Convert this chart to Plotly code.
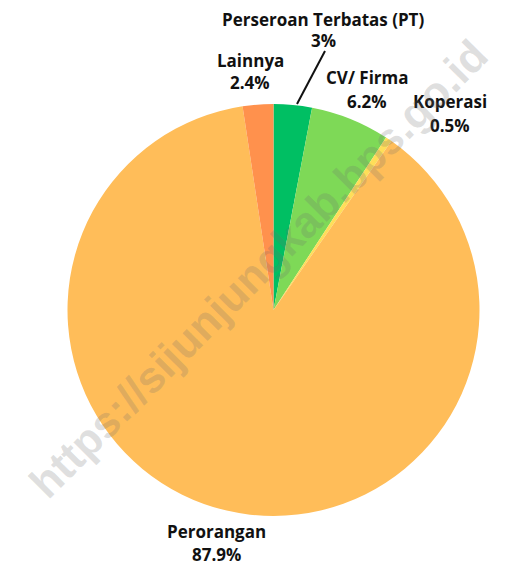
import plotly.graph_objects as go

# data
labels = ['Perseroan Terbatas (PT)', 'CV/ Firma', 'Koperasi', 'Perorangan', 'Lainnya']
values = [3, 6.2, 0.5, 87.9, 2.4]
value_text = ['3%', '6.2%', '0.5%', '87.9%', '2.4%']
colors = ['#00bf63', '#7ed957', '#ffde59', '#ffbd59', '#ff914d']

W, H = 508, 565
OFF = 8  # page body margin shifts the figure


def px(x):
    return (x - OFF) / W


def py(y):
    return 1 - (y - OFF) / H


# label positions in pixels (x centre, y of name line, y of value line)
label_pos = [(323, 20, 40), (367, 78, 101), (450, 102, 125), (216, 531, 554), (250, 60, 83)]

fig = go.Figure()
fig.add_trace(go.Pie(
    labels=labels, values=values, sort=False, direction='clockwise', rotation=0,
    marker=dict(colors=colors, line=dict(width=0)),
    textinfo='none', hoverinfo='label+percent', showlegend=False,
    domain=dict(x=[px(67.5), px(479.5)], y=[py(516), py(104)]),
))

font = dict(family='Open Sans', size=17, color='#111111')
for name, vt, (lx, ly1, ly2) in zip(labels, value_text, label_pos):
    fig.add_annotation(x=px(lx), y=py(ly1), xref='paper', yref='paper',
                       text='<b>%s</b>' % name, showarrow=False, font=font,
                       xanchor='center', yanchor='middle', borderpad=0)
    fig.add_annotation(x=px(lx), y=py(ly2), xref='paper', yref='paper',
                       text='<b>%s</b>' % vt, showarrow=False, font=font,
                       xanchor='center', yanchor='middle', borderpad=0)

# leader line for PT
fig.add_shape(type='line', xref='paper', yref='paper',
              x0=px(325), y0=py(51), x1=px(297), y1=py(104),
              line=dict(color='#111111', width=2))

# watermark
fig.add_annotation(x=px(258), y=py(268), xref='paper', yref='paper',
                   text='<b>https://sijunjungkab.bps.go.id</b>', showarrow=False,
                   textangle=-45, font=dict(family='Liberation Sans', size=44,
                                            color='rgba(110,110,110,0.22)'))

fig.update_layout(width=W, height=H, margin=dict(l=0, r=0, t=0, b=0),
                  paper_bgcolor='white', plot_bgcolor='white')
fig.write_html('out.html')
